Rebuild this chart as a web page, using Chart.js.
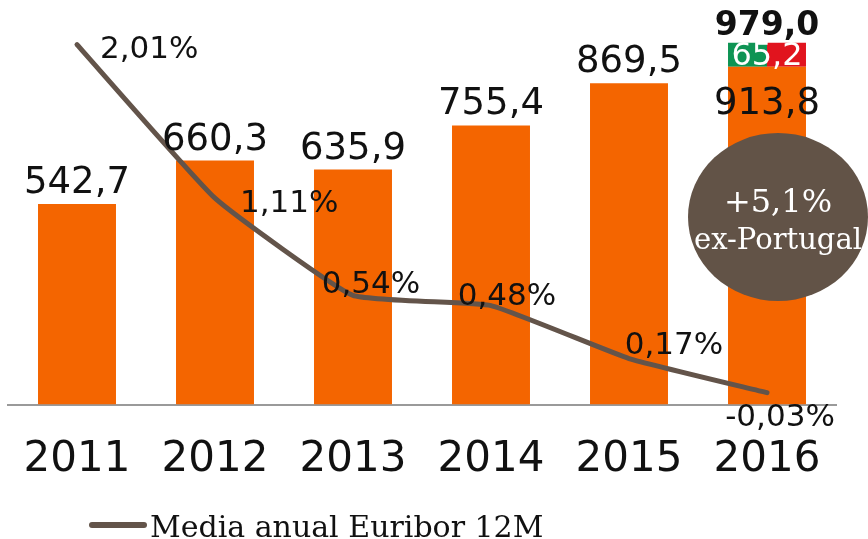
<!DOCTYPE html>
<html>
<head>
<meta charset="utf-8">
<script src="https://cdn.jsdelivr.net/npm/chart.js@4/dist/chart.umd.min.js"></script>
<style>
html,body{margin:0;padding:0;background:#fff;}
canvas{display:block;}
</style>
</head>
<body>
<canvas id="c" width="868" height="539"></canvas>
<script>
const categories = ['2011', '2012', '2013', '2014', '2015', '2016'];
const revenue = [542.7, 660.3, 635.9, 755.4, 869.5, 913.8];
const exPortugalExtra = [null, null, null, null, null, 65.2];
const euribor = [2.01, 1.11, 0.54, 0.48, 0.17, -0.03];
const growthText = ['+5,1%', 'ex-Portugal'];
const legendText = 'Media anual Euribor 12M';

const ORANGE = '#F46500';
const BROWN = '#63544A';
const GREEN = '#0E9454';
const RED = '#E1141E';
const NUM_FONT = 'DejaVu Sans';
const SERIF = 'DejaVu Serif';

const fmt1 = v => v.toFixed(1).replace('.', ',');
const fmtPct = v => v.toFixed(2).replace('.', ',') + '%';

function splitFill(c) {
  const ch = c.chart;
  const xs = ch.scales && ch.scales.x;
  if (!ch.chartArea || !xs || !xs.width) return GREEN;
  const cx = xs.getPixelForValue(c.dataIndex);
  const w = (xs.width / categories.length) * 0.565;
  const g = ch.ctx.createLinearGradient(cx - w / 2, 0, cx + w / 2, 0);
  g.addColorStop(0, GREEN); g.addColorStop(0.5, GREEN);
  g.addColorStop(0.5, RED); g.addColorStop(1, RED);
  return g;
}

const labelPlugin = {
  id: 'labels',
  afterDatasetsDraw(chart) {
    const ctx = chart.ctx;
    const area = chart.chartArea;
    const lineMeta = chart.getDatasetMeta(0);
    const barMeta = chart.getDatasetMeta(1);
    const extraMeta = chart.getDatasetMeta(2);
    ctx.save();
    // bar labels
    ctx.textAlign = 'center';
    barMeta.data.forEach((el, i) => {
      const last = exPortugalExtra[i] != null;
      ctx.fillStyle = '#111';
      ctx.font = '37px "' + NUM_FONT + '"';
      if (last) {
        ctx.textBaseline = 'middle';
        ctx.fillText(fmt1(revenue[i]), el.x, el.y + 38);
      } else {
        ctx.textBaseline = 'alphabetic';
        ctx.fillText(fmt1(revenue[i]), el.x, el.y - 11);
      }
    });
    extraMeta.data.forEach((el, i) => {
      if (exPortugalExtra[i] == null) return;
      ctx.fillStyle = '#fff';
      ctx.font = '32px "' + NUM_FONT + '"';
      ctx.textBaseline = 'middle';
      ctx.fillText(fmt1(exPortugalExtra[i]), el.x, (el.y + el.base) / 2 + 2);
      ctx.fillStyle = '#111';
      ctx.font = 'bold 33px "' + NUM_FONT + '"';
      ctx.textBaseline = 'alphabetic';
      ctx.fillText(fmt1(revenue[i] + exPortugalExtra[i]), el.x, el.y - 8);
    });

    // growth bubble
    const bx = barMeta.data[5].x + 11;
    const by = area.top + 182;
    ctx.fillStyle = '#625347';
    ctx.beginPath();
    ctx.ellipse(bx, by, 90, 84, 0, 0, Math.PI * 2);
    ctx.fill();
    ctx.fillStyle = '#fff';
    ctx.textAlign = 'center';
    ctx.textBaseline = 'alphabetic';
    ctx.font = '32px "' + SERIF + '"';
    ctx.fillText(growthText[0], bx, by - 5);
    ctx.font = '29px "' + SERIF + '"';
    ctx.fillText(growthText[1], bx, by + 32);

    // line labels
    const offs = [[23, 5, 'left'], [25, 6, 'left'], [18, -10, 'center'], [16, -9, 'center'], [45, -13, 'center'], [13, 25, 'center']];
    ctx.fillStyle = '#111';
    ctx.font = '31px "' + NUM_FONT + '"';
    ctx.textBaseline = 'middle';
    lineMeta.data.forEach((pt, i) => {
      const o = offs[i];
      ctx.textAlign = o[2];
      ctx.fillText(fmtPct(euribor[i]), pt.x + o[0], pt.y + o[1]);
    });

    // legend
    const ly = 525;
    const lx = area.left + 84;
    ctx.strokeStyle = BROWN;
    ctx.lineWidth = 6;
    ctx.lineCap = 'round';
    ctx.beginPath();
    ctx.moveTo(lx, ly);
    ctx.lineTo(lx + 52, ly);
    ctx.stroke();
    ctx.fillStyle = '#111';
    ctx.textAlign = 'left';
    ctx.textBaseline = 'alphabetic';
    ctx.font = '30px "' + SERIF + '"';
    ctx.fillText(chart.data.datasets[0].label, lx + 58, ly + 12);
    ctx.restore();
  }
};

new Chart(document.getElementById('c'), {
  data: {
    labels: categories,
    datasets: [
      {
        type: 'line', label: legendText, data: euribor, yAxisID: 'y2',
        borderColor: BROWN, backgroundColor: BROWN, borderWidth: 5,
        borderCapStyle: 'round', pointRadius: 0, tension: 0.12, order: 0
      },
      {
        type: 'bar', label: 'Ingresos', data: revenue, yAxisID: 'y', stack: 's',
        backgroundColor: ORANGE, barPercentage: 0.565, categoryPercentage: 1, order: 1
      },
      {
        type: 'bar', label: 'ex-Portugal', data: exPortugalExtra, yAxisID: 'y', stack: 's',
        backgroundColor: splitFill, barPercentage: 0.565, categoryPercentage: 1, order: 1
      }
    ]
  },
  options: {
    responsive: false,
    animation: false,
    devicePixelRatio: 1,
    layout: { padding: { left: 8, right: 32, top: 35, bottom: 46 } },
    plugins: { legend: { display: false }, tooltip: { enabled: false } },
    scales: {
      x: {
        stacked: true,
        grid: { display: false, drawTicks: true, tickLength: 22 },
        border: { display: true, color: '#9a9a9a', width: 2 },
        ticks: { font: { family: NUM_FONT, size: 42 }, color: '#111', padding: 8 }
      },
      y: { stacked: true, display: false, min: 0, max: 1000 },
      y2: { display: false, min: -0.1, max: 2.066 }
    }
  },
  plugins: [labelPlugin]
});
</script>
</body>
</html>
